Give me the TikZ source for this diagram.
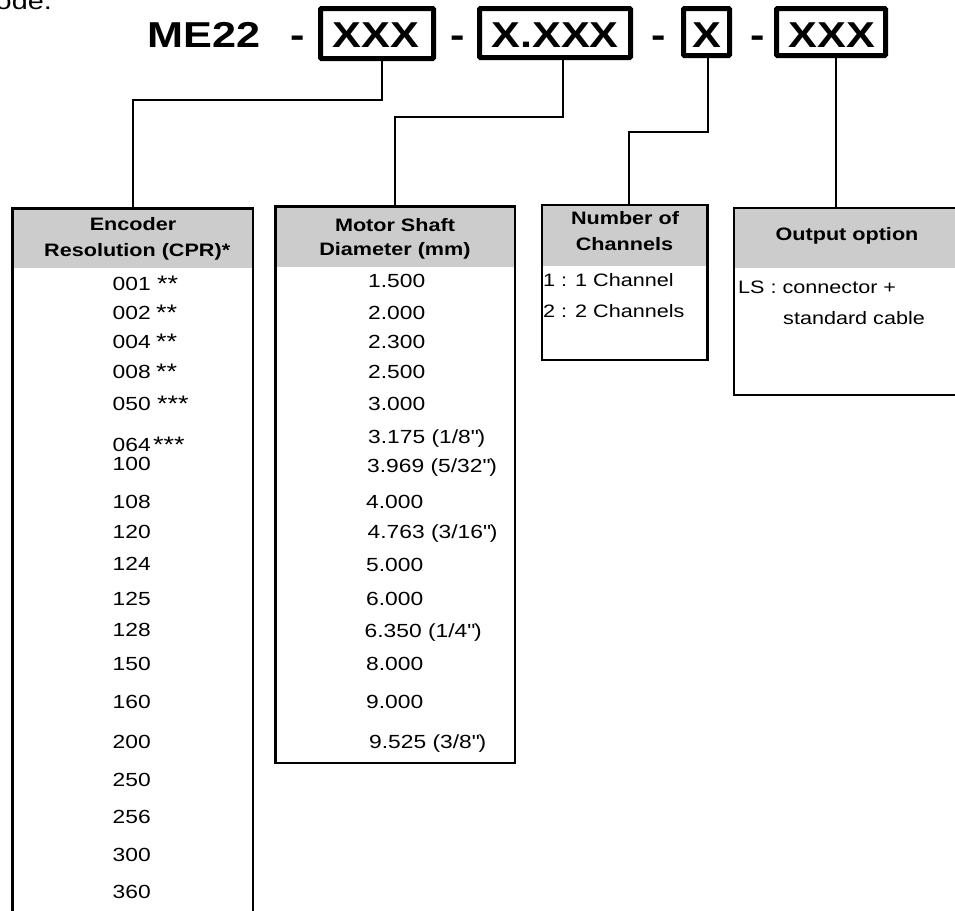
\documentclass[tikz,border=0pt]{standalone}
\usepackage{fontspec}
\setmainfont{Liberation Sans}[FakeStretch=1.2]
\definecolor{hdr}{RGB}{204,204,204}
\newcommand{\inch}{\textquotedbl}
\tikzset{
  codebox/.style={draw, line width=5pt, outer sep=0pt, inner sep=0pt, rounded corners=1pt},
  tbl/.style={draw, line width=2.5pt, outer sep=0pt, inner sep=0pt, anchor=north west},
  conn/.style={draw, line width=2pt},
  bodytxt/.style={font=\fontsize{18}{21}\selectfont, inner sep=0pt, anchor=base west},
  numtxt/.style={font=\fontsize{19}{21}\selectfont, inner sep=0pt, anchor=base west},
  headtxt/.style={font=\fontsize{18}{21}\selectfont\bfseries, inner sep=0pt, anchor=base},
  bigtxt/.style={font=\fontsize{36}{40}\selectfont\bfseries, inner sep=0pt, anchor=base},
  startxt/.style={font=\fontsize{22.5}{24}\selectfont, inner sep=0pt, anchor=base west},
}
\begin{document}
\begin{tikzpicture}[x=1pt,y=-1pt]
\useasboundingbox (0,0) rectangle (955,910);
\clip (0,0) rectangle (955,910);

% partial caption
\node[font=\fontsize{24}{26}\selectfont, inner sep=0pt, anchor=base east] (cap) at (52,9.5) {ode.};

% code line
\node[bigtxt, anchor=base west] (me) at (147.5,47) {ME22};
\node[bigtxt] (d1) at (298,47) {-};
\node[bigtxt] (d2) at (458,47) {-};
\node[bigtxt] (d3) at (659,47) {-};
\node[bigtxt] (d4) at (758,47) {-};

\node[codebox, minimum width=113, minimum height=50] (b1) at (377,33.5) {};
\node[codebox, minimum width=151, minimum height=49] (b2) at (555,33) {};
\node[codebox, minimum width=46, minimum height=47] (b3) at (706.5,32) {};
\node[codebox, minimum width=109, minimum height=47] (b4) at (831,32) {};
\node[bigtxt] (x1) at (376,47) {XXX};
\node[bigtxt] (x2) at (555,47) {X.XXX};
\node[bigtxt] (x3) at (706.5,47) {X};
\node[bigtxt] (x4) at (832,47) {XXX};

% header fills
\fill[hdr] (12.5,208.5) rectangle (253,268);
\fill[hdr] (275.5,206.5) rectangle (515,267);
\fill[hdr] (542,205) rectangle (707.5,266);
\fill[hdr] (734,208) rectangle (1000,268);

% table frames
\node[tbl, minimum width=240.5, minimum height=800] (enc) at (12.5,208.5) {};
\node[tbl, minimum width=239.5, minimum height=556.5] (mot) at (275.5,206.5) {};
\node[tbl, minimum width=165.5, minimum height=155] (ch) at (542,205) {};
\node[tbl, minimum width=300, minimum height=187] (out) at (734,208) {};

% connectors
\draw[conn] ([xshift=5pt]b1.south) -- ++(0,41.5) -| (enc.north);
\draw[conn] ([xshift=8pt]b2.south) -- ++(0,59.5) -| (mot.north);
\draw[conn] ([xshift=1.5pt]b3.south) -- ++(0,76.5) -| ([xshift=4pt]ch.north);
\coordinate (c4) at ([xshift=5pt]b4.south);
\draw[conn] (c4) -- (c4 |- out.north);

% headers
\node[headtxt] (eh1) at (133,230) {Encoder};
\node[headtxt] (eh2) at (133,256) {Resolution (CPR)\rlap{*}};
\node[headtxt] (mh1) at (395,231) {Motor Shaft};
\node[headtxt] (mh2) at (395,255) {Diameter (mm)};
\node[headtxt] (ch1) at (625,224) {Number of};
\node[headtxt] (ch2) at (624.5,250) {Channels};
\node[headtxt] (oh1) at (847,240) {Output option};

% encoder values
\foreach \v/\y [count=\i] in {001/290,002/319,004/348,008/378,050/410,064/451.5,100/470,108/508,120/538,124/570,125/605,128/636,150/670,160/708,200/748,250/786,256/823,300/861,360/898}
  \node[numtxt] (e\i) at (112.5,\y) {\v};
\node[startxt] (s1) at (157,291.5) {**};
\node[startxt] (s2) at (156,320.5) {**};
\node[startxt] (s3) at (156,349.5) {**};
\node[startxt] (s4) at (156,379.5) {**};
\node[startxt] (s5) at (157,411.5) {***};
\node[startxt] (s6) at (153,452) {***};

% motor values
\foreach \v/\x/\y [count=\i] in {1.500/368/287,2.000/368/319,2.300/368/348,2.500/368/378,3.000/368/410,{3.175 (1/8\inch)}/368/443,{3.969 (5/32\inch)}/367/472,4.000/366/508,{4.763 (3/16\inch)}/367.5/538,5.000/366/571,6.000/366/605,{6.350 (1/4\inch)}/364.5/637,8.000/366/670,9.000/366/708,{9.525 (3/8\inch)}/369/748}
  \node[numtxt] (m\i) at (\x,\y) {\v};

% channels
\node[bodytxt] (c1) at (543,286) {1 : 1 Channel};
\node[bodytxt] (c2) at (543,317) {2 : 2 Channels};

% output
\node[bodytxt] (o1) at (738,293) {LS : connector +};
\node[bodytxt] (o2) at (783,324) {standard cable};
\end{tikzpicture}
\end{document}
